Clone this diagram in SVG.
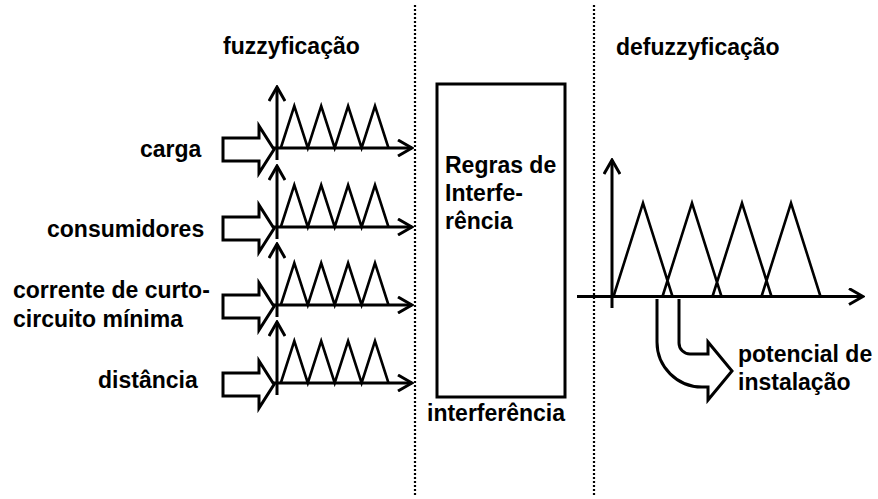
<svg xmlns="http://www.w3.org/2000/svg" width="878" height="499" viewBox="0 0 878 499">
<style>
text{font-family:"Liberation Sans",Arial,sans-serif;font-weight:bold;font-size:23px;fill:#000}
.ax{stroke:#000;stroke-width:3;fill:none}
.tri{stroke:#000;stroke-width:2.6;fill:none;stroke-linejoin:miter}
.blk{stroke:#000;stroke-width:3;fill:#fff;stroke-linejoin:miter}
.dot{stroke:#000;stroke-width:2.2;stroke-dasharray:2 2;fill:none}
</style>
<defs>
<marker id="arr" viewBox="0 0 17 18" refX="15" refY="9" markerWidth="17" markerHeight="18" orient="auto" markerUnits="userSpaceOnUse">
<path d="M1,1 L15,9 L1,17" fill="none" stroke="#000" stroke-width="3"/>
</marker>
<g id="fz">
<path class="ax" d="M277,12 V-61" marker-end="url(#arr)"/>
<path class="ax" d="M272,0 H412" marker-end="url(#arr)"/>
<path class="tri" d="M280.8,0 L294.3,-42 L307.8,0 L321.2,-42 L334.7,0 L348.1,-42 L361.6,0 L375,-42 L388.5,0"/>
</g>
</defs>
<rect width="878" height="499" fill="#fff"/>
<g id="separators">
<line class="dot" x1="415" y1="5" x2="415" y2="496"/>
<line class="dot" x1="594" y1="5" x2="594" y2="496"/>
</g>
<g id="titles">
<text x="223" y="54">fuzzyficação</text>
<text x="616" y="55">defuzzyficação</text>
</g>
<g id="input-carga">
<text x="140" y="157">carga</text>
<use href="#fz" transform="translate(0,148)"/>
</g>
<g id="input-consumidores">
<text x="47" y="237">consumidores</text>
<use href="#fz" transform="translate(0,227)"/>
</g>
<g id="input-corrente">
<text x="13" y="298">corrente de curto-</text>
<text x="13" y="327">circuito mínima</text>
<use href="#fz" transform="translate(0,305)"/>
</g>
<g id="input-distancia">
<text x="98" y="388">distância</text>
<use href="#fz" transform="translate(0,383)"/>
</g>
<g id="rules">
<rect x="437" y="84" width="128" height="313" fill="#fff" stroke="#000" stroke-width="3"/>
<text x="445" y="173">Regras de</text>
<text x="445" y="201">Interfe-</text>
<text x="445" y="229">rência</text>
<text x="427" y="421">interferência</text>
</g>
<g id="defuzzy">
<path class="ax" d="M612,308 V160" marker-end="url(#arr)"/>
<path class="ax" d="M577,296.5 H863" marker-end="url(#arr)"/>
<path class="tri" d="M613.5,296.5 L643,203 L672.5,296.5 M662.5,296.5 L692,203 L721.5,296.5 M712.5,296.5 L742,203 L771.5,296.5 M761.5,296.5 L791,203 L820.5,296.5"/>
</g>
<g id="output">
<text x="738" y="362">potencial de</text>
<text x="738" y="390">instalação</text>
</g>
<g id="connectors">
<path class="blk" d="M259,138 H223 V161 H259 V173 L274,149.5 L259,126 Z"/>
<path class="blk" d="M259,217 H223 V240 H259 V252 L274,228.5 L259,205 Z"/>
<path class="blk" d="M259,295 H223 V318 H259 V330 L274,306.5 L259,283 Z"/>
<path class="blk" d="M259,373 H223 V396 H259 V408 L274,384.5 L259,361 Z"/>
<path class="blk" d="M657,299 V342 A45,45 0 0 0 702,387 H708 V400 L732,371 L708,342 V354 H690 A11,11 0 0 1 679,343 V299"/>
</g>
</svg>
